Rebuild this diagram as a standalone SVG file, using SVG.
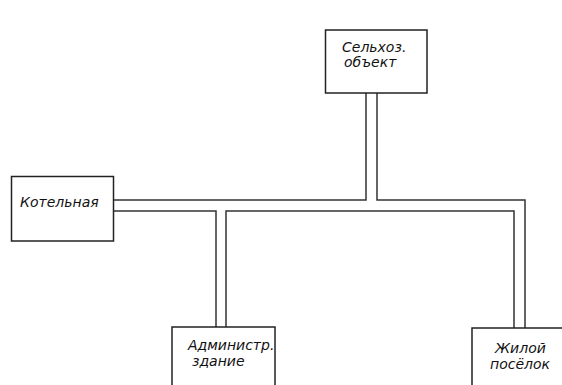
<svg xmlns="http://www.w3.org/2000/svg" width="562" height="385" viewBox="0 0 562 385">
<style>
.box{fill:#fff;stroke:#222;stroke-width:1.5}
.pipe{fill:none;stroke:#333;stroke-width:1.5}
.t{font-family:"DejaVu Sans",sans-serif;font-style:italic;font-size:14px;fill:#111}
</style>
<rect width="562" height="385" fill="#fff"/>
<g id="connectors">
<path class="pipe" d="M114,200 H366 V93"/>
<path class="pipe" d="M377,93 V200 H525 V328"/>
<path class="pipe" d="M114,211 H216 V327"/>
<path class="pipe" d="M226,327 V211 H514 V328"/>
</g>
<g id="selhoz">
<rect class="box" x="325.5" y="30" width="101.5" height="63"/>
<text class="t" x="342" y="52">Сельхоз.</text>
<text class="t" x="344" y="67">объект</text>
</g>
<g id="kotelnaya">
<rect class="box" x="11.5" y="176.5" width="102" height="64.5"/>
<text class="t" x="20" y="207">Котельная</text>
</g>
<g id="admin">
<rect class="box" x="172" y="327" width="103" height="70"/>
<text class="t" x="188" y="350">Администр.</text>
<text class="t" x="192" y="366">здание</text>
</g>
<g id="zhiloy">
<rect class="box" x="472" y="328" width="110" height="70"/>
<text class="t" x="495" y="353">Жилой</text>
<text class="t" x="490" y="369">посёлок</text>
</g>
</svg>
